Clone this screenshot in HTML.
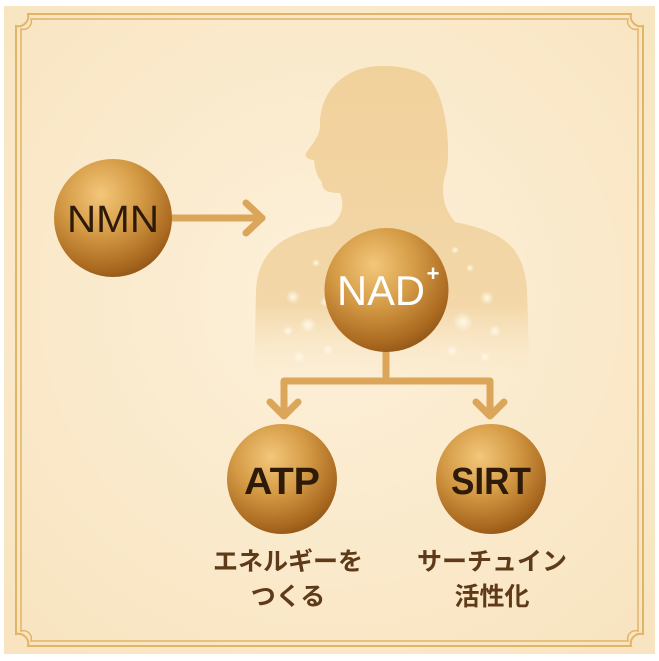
<!DOCTYPE html>
<html><head><meta charset="utf-8"><style>
html,body{margin:0;padding:0;width:659px;height:661px;overflow:hidden;background:#fff}
svg{display:block}
</style></head><body>
<svg width="659" height="661" viewBox="0 0 659 661" xmlns="http://www.w3.org/2000/svg">
<defs>
<radialGradient id="bg" cx="50%" cy="45%" r="70%"><stop offset="0" stop-color="#fdf1da"/><stop offset="1" stop-color="#f8e4c0"/></radialGradient>
<radialGradient id="ball" cx="40%" cy="30%" r="75%"><stop offset="0" stop-color="#f3c77a"/><stop offset="0.45" stop-color="#d49a45"/><stop offset="0.85" stop-color="#a9681f"/><stop offset="1" stop-color="#8d5416"/></radialGradient>
<linearGradient id="body" x1="0" y1="0" x2="0" y2="1"><stop offset="0" stop-color="#f1d19b"/><stop offset="0.75" stop-color="#f3d7a8"/><stop offset="1" stop-color="#fbecd2" stop-opacity="0"/></linearGradient>
<radialGradient id="dot"><stop offset="0" stop-color="#fff8e8"/><stop offset="1" stop-color="#fff8e8" stop-opacity="0"/></radialGradient>
</defs>
<rect x="4" y="6" width="651" height="648" fill="url(#bg)"/>
<path d="M28 14 H631 a10 10 0 0 0 12 12 V634 a10 10 0 0 0 -12 12 H28 a10 10 0 0 0 -12 -12 V26 a10 10 0 0 0 12 -12Z" fill="none" stroke="#e2b468" stroke-width="2"/>
<path d="M31 19 H628 a8 8 0 0 0 10 10 V631 a8 8 0 0 0 -10 10 H31 a8 8 0 0 0 -10 -10 V29 a8 8 0 0 0 10 -10Z" fill="none" stroke="#e2b468" stroke-width="1.5"/>
<path d="M382 66 C345 66 320 90 320 125 C320 135 314 142 306 153 C304 157 309 160 314 160 C315 168 316 176 322 182 C322 190 326 193 340 193 C345 205 342 218 330 226 C285 232 258 250 256 290 L254 385 L530 385 L527 290 C524 248 505 232 455 222 C445 210 440 195 445 175 C452 160 448 90 425 75 C412 68 398 66 382 66Z" fill="url(#body)"/>
<g fill="url(#dot)">
<circle cx="293" cy="297" r="7"/><circle cx="308" cy="325" r="8"/><circle cx="288" cy="331" r="5"/><circle cx="299" cy="357" r="6"/><circle cx="328" cy="350" r="5"/><circle cx="316" cy="263" r="4"/><circle cx="325" cy="302" r="5"/>
<circle cx="487" cy="298" r="7"/><circle cx="463" cy="322" r="10"/><circle cx="495" cy="331" r="6"/><circle cx="452" cy="351" r="6"/><circle cx="485" cy="357" r="5"/><circle cx="470" cy="268" r="4"/><circle cx="455" cy="250" r="4"/>
</g>
<g stroke="#dba55a" stroke-width="7" fill="none" stroke-linecap="round" stroke-linejoin="round">
<line x1="170" y1="218" x2="262" y2="218"/>
<polyline points="246,203 262,218 246,233"/>
<line x1="386" y1="350" x2="386" y2="381"/>
<polyline points="284,415 284,381 490,381 490,415"/>
<polyline points="270,402 284,416 298,402"/>
<polyline points="476,402 490,416 504,402"/>
</g>
<circle cx="113" cy="218" r="59" fill="url(#ball)"/>
<circle cx="386.5" cy="290" r="62" fill="url(#ball)"/>
<circle cx="282" cy="479" r="55" fill="url(#ball)"/>
<circle cx="491" cy="479" r="55" fill="url(#ball)"/>
<g font-family="Liberation Sans, sans-serif" text-anchor="middle">
<text x="113" y="232" font-size="38" fill="#2e1a08" textLength="92" lengthAdjust="spacingAndGlyphs">NMN</text>
<text x="381" y="305" font-size="42" fill="#fff" textLength="88" lengthAdjust="spacingAndGlyphs">NAD</text>
<text x="433" y="281" font-size="22" fill="#fff" font-weight="bold">+</text>
<text x="282" y="494" font-size="38" fill="#2e1a08" font-weight="bold" textLength="76" lengthAdjust="spacingAndGlyphs">ATP</text>
<text x="491" y="494" font-size="38" fill="#2e1a08" font-weight="bold" textLength="80" lengthAdjust="spacingAndGlyphs">SIRT</text>
</g>
<g font-family="Liberation Sans, 'Noto Sans CJK JP', sans-serif" text-anchor="middle" font-size="25" font-weight="bold" fill="#5e3a18">
<text x="288" y="570">エネルギーを</text>
<text x="288" y="605">つくる</text>
<text x="492" y="570">サーチュイン</text>
<text x="492" y="605">活性化</text>
</g>
</svg>
</body></html>
